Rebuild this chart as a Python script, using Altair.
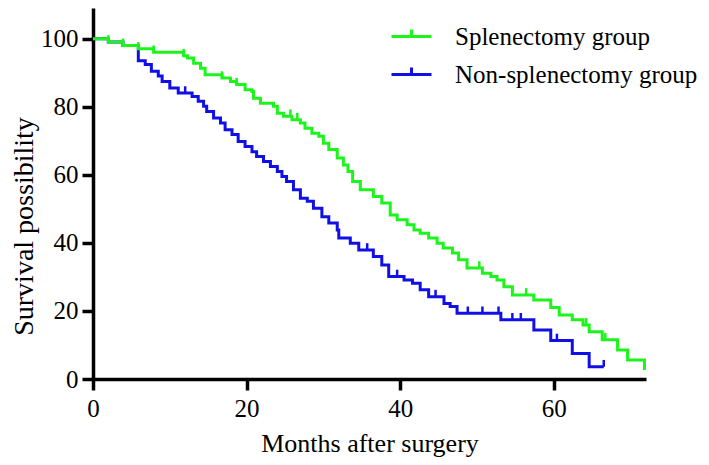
import altair as alt
import pandas as pd

# Kaplan-Meier step points (months, survival %)
green_t = [0, 2.0, 3.9, 5.9, 7.9, 11.8, 12.3, 13.1, 14.0, 14.6, 16.8, 17.9, 18.7, 19.8, 20.7,
           20.9, 21.8, 23.5, 24.0, 24.8, 25.9, 27.0, 27.6, 28.5, 29.4, 30.0, 30.7, 31.8, 32.6,
           33.2, 33.8, 34.8, 36.5, 37.6, 38.7, 39.6, 40.9, 41.8, 42.6, 43.7, 44.8, 45.6, 46.8,
           47.6, 48.7, 50.7, 51.8, 52.6, 53.5, 54.6, 57.4, 59.6, 60.7, 62.4, 63.8, 64.6, 66.3,
           68.3, 69.6, 71.8, 72.0]
green_s = [100, 99, 98, 97, 96, 95, 94.3, 92.8, 91.3, 89.4, 88.4, 87.4, 86.5, 85, 84.5,
           82.5, 81, 80.1, 78.1, 77.2, 76.2, 75.2, 73.7, 72.2, 71.3, 69.3, 67.4, 64.9, 62.9,
           61, 58, 55.6, 53.6, 51.7, 48.2, 46.8, 45.3, 43.8, 42.8, 41.4, 39.9, 38.5, 37,
           35, 32.6, 31.1, 30.1, 29.1, 27.1, 24.7, 23.2, 21.0, 18.8, 17.4, 15.9, 13.9, 11.5,
           8.5, 5.6, 3.1, 3.1]
green_censor = [2.0, 3.9, 5.9, 7.9, 11.8, 16.8, 18.7, 25.7, 26.6, 50.3, 56.4, 64.2, 66.7]

blue_t = [0, 2.0, 3.9, 5.9, 6.8, 7.6, 8.5, 9.0, 10.0, 11.1, 12.9, 13.7, 14.4, 14.8, 15.7,
          16.6, 17.2, 18.1, 18.9, 19.8, 20.7, 21.3, 22.2, 23.1, 24.0, 24.6, 25.2, 26.1, 27.0,
          27.9, 28.7, 29.8, 30.7, 31.8, 32.0, 33.5, 34.6, 36.5, 37.6, 38.5, 40.5, 41.6, 42.6,
          43.7, 45.7, 46.5, 47.4, 53.1, 57.4, 59.6, 62.4, 64.6, 66.5]
blue_s = [100, 99, 98, 93.5, 92.4, 90.4, 89, 87.4, 85.5, 84, 83, 81.6, 80.1, 78.6, 76.7,
          75.2, 73.2, 71.8, 69.8, 68.3, 66.8, 65.4, 63.9, 62.4, 61, 59.5, 58, 55.6, 53.1,
          52.2, 50.2, 47.7, 45.8, 43.8, 41.4, 39.9, 37.9, 36, 33.5, 30.1, 29.1, 28.1, 26.2,
          24.2, 22.2, 21.3, 19.3, 17.4, 14.4, 11.3, 7.5, 3.6, 3.6]
blue_censor = [12.0, 35.7, 39.6, 44.6, 48.8, 50.7, 52.8, 54.6, 55.7, 60.4, 66.5]

groups = ["Splenectomy group", "Non-splenectomy group"]
colors = ["#1cf51c", "#1010e6"]
x_ticks = [0, 20, 40, 60]
y_ticks = [0, 20, 40, 60, 80, 100]


def step_value(ts, ss, t):
    v = ss[0]
    for ti, si in zip(ts, ss):
        if ti <= t:
            v = si
    return v


green_df = pd.DataFrame({"t": green_t, "s": green_s, "group": groups[0]})
blue_df = pd.DataFrame({"t": blue_t, "s": blue_s, "group": groups[1]})
green_c = pd.DataFrame({"t": green_censor,
                        "s": [step_value(green_t, green_s, c) for c in green_censor]})
green_c["s2"] = green_c["s"] + 2
blue_c = pd.DataFrame({"t": blue_censor,
                       "s": [step_value(blue_t, blue_s, c) for c in blue_censor]})
blue_c["s2"] = blue_c["s"] + 2

FONT = "Liberation Serif"
xscale = alt.Scale(domain=[0, 72], nice=False, zero=False)
yscale = alt.Scale(domain=[0, 109], nice=False)
cscale = alt.Scale(domain=groups, range=colors)

xaxis = alt.Axis(values=x_ticks, title="Months after surgery", titleFontSize=26,
                 titleFont=FONT, titleFontWeight="normal", titleColor="black",
                 titleBaseline="alphabetic", titleY=72, labelPadding=6, labelFlush=False)
yaxis = alt.Axis(values=y_ticks, title="Survival possibility", titleFontSize=28,
                 titleFont=FONT, titleFontWeight="normal", titleColor="black",
                 titleBaseline="alphabetic", titleX=-61, titleY=218, titleAngle=270,
                 labelPadding=4, labelFlush=False)

legend = alt.Legend(title=None, orient="none", legendX=297, legendY=7,
                    symbolType="M-1,0H1M0,0V-0.35", symbolSize=1600, symbolStrokeWidth=3,
                    labelFont=FONT, labelFontSize=25, labelColor="black", labelOffset=22,
                    labelLimit=400, rowPadding=3, padding=0)

blue_line = alt.Chart(blue_df).mark_line(interpolate="step-after", strokeWidth=3).encode(
    x=alt.X("t:Q", scale=xscale, axis=xaxis),
    y=alt.Y("s:Q", scale=yscale, axis=yaxis),
    color=alt.Color("group:N", scale=cscale, legend=legend),
)
blue_ticks = alt.Chart(blue_c).mark_rule(strokeWidth=2.5, color=colors[1]).encode(
    x="t:Q", y="s:Q", y2="s2:Q")
green_line = alt.Chart(green_df).mark_line(interpolate="step-after", strokeWidth=3).encode(
    x=alt.X("t:Q", scale=xscale, axis=xaxis),
    y=alt.Y("s:Q", scale=yscale, axis=yaxis),
    color=alt.Color("group:N", scale=cscale, legend=legend),
)
green_ticks = alt.Chart(green_c).mark_rule(strokeWidth=2.5, color=colors[0]).encode(
    x="t:Q", y="s:Q", y2="s2:Q")

chart = alt.layer(blue_line, blue_ticks, green_line, green_ticks).properties(
    width=553, height=371,
    background="white",
    autosize=alt.AutoSizeParams(type="none"),
    padding={"left": 85, "top": 0, "right": 54, "bottom": 84},
).configure_view(stroke=None).configure_axis(
    grid=False, domainColor="black", domainWidth=3.5, tickColor="black", tickWidth=3.5,
    tickSize=11, labelFont=FONT, labelFontSize=25, labelColor="black",
)

chart.save("out.html", embed_options={"renderer": "svg", "actions": False})
